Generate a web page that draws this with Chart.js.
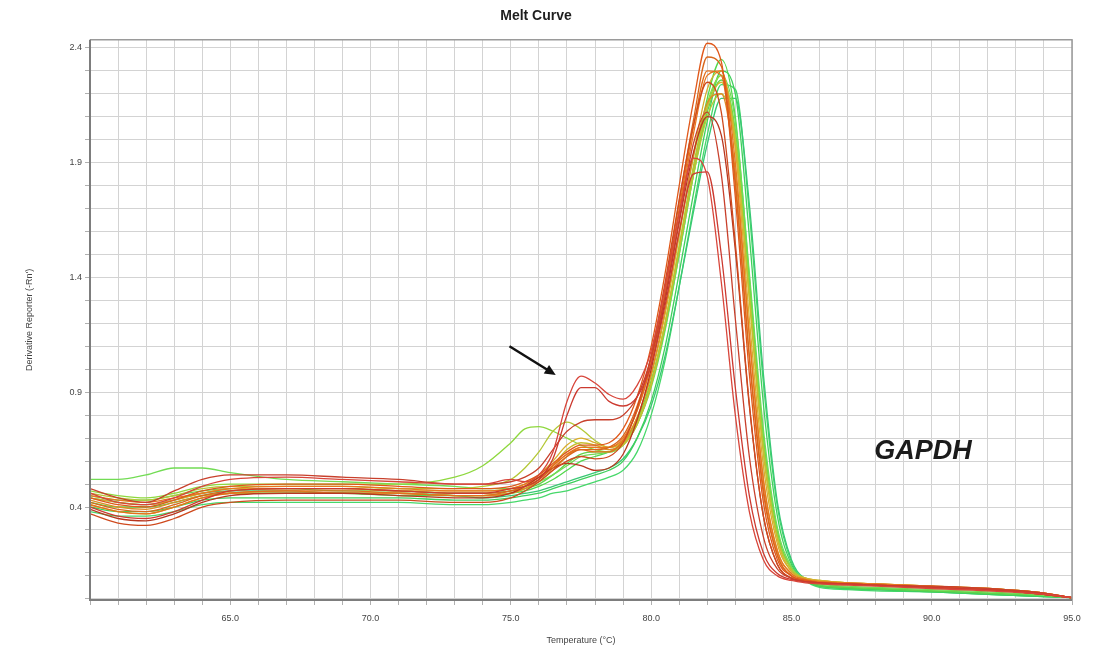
<!DOCTYPE html>
<html>
<head>
<meta charset="utf-8">
<title>Melt Curve</title>
<script src="https://cdn.jsdelivr.net/npm/chart.js@4.4.1/dist/chart.umd.min.js"></script>
<style>
    html, body { margin: 0; padding: 0; background: #ffffff; }
    #wrap { width: 1096px; height: 653px; position: relative; }
</style>
</head>
<body>
<div id="wrap"><canvas id="chart-melt"></canvas></div>
<script>
// 1. temperature points (x) shared by every well
const temps = [60, 61, 62, 63, 64, 65, 67, 69, 71, 73, 74, 75, 75.5, 76, 76.5, 77, 77.5, 78, 78.5, 79,
    79.5, 80, 80.5, 81, 81.5, 82, 82.5, 83, 83.5, 84, 84.5, 85, 85.5, 86, 87, 88, 90, 92, 94, 95];

// 2. derivative reporter per well
// red wells with the primer-dimer shoulder
const wellR1 = [0.46, 0.42, 0.41, 0.44, 0.49, 0.52, 0.53, 0.52, 0.51, 0.50, 0.50, 0.52, 0.51, 0.54, 0.64, 0.86, 0.97, 0.94, 0.89, 0.87,
    0.93, 1.08, 1.36, 1.68, 1.92, 1.84, 1.38, 0.80, 0.38, 0.17, 0.10, 0.08, 0.07, 0.065, 0.06, 0.055, 0.045, 0.035, 0.02, 0.005];
const wellR2 = [0.40, 0.36, 0.35, 0.38, 0.43, 0.47, 0.48, 0.48, 0.47, 0.46, 0.46, 0.48, 0.49, 0.52, 0.61, 0.80, 0.92, 0.92, 0.86, 0.84,
    0.88, 1.02, 1.28, 1.60, 1.85, 1.86, 1.50, 0.92, 0.45, 0.20, 0.11, 0.085, 0.075, 0.07, 0.065, 0.06, 0.05, 0.04, 0.02, 0.005];
const wellR3 = [0.48, 0.44, 0.42, 0.47, 0.52, 0.54, 0.54, 0.53, 0.52, 0.50, 0.50, 0.51, 0.53, 0.57, 0.65, 0.73, 0.77, 0.78, 0.78, 0.80,
    0.88, 1.05, 1.32, 1.65, 1.98, 2.12, 1.85, 1.22, 0.62, 0.27, 0.13, 0.09, 0.075, 0.07, 0.065, 0.06, 0.055, 0.045, 0.025, 0.005];
const wellR4 = [0.39, 0.35, 0.34, 0.37, 0.42, 0.45, 0.46, 0.46, 0.45, 0.44, 0.44, 0.46, 0.49, 0.53, 0.57, 0.59, 0.58, 0.56, 0.57, 0.63,
    0.78, 1.00, 1.30, 1.64, 1.94, 2.10, 2.02, 1.52, 0.84, 0.36, 0.15, 0.09, 0.075, 0.07, 0.065, 0.06, 0.05, 0.04, 0.02, 0.005];
// orange wells
const wellO1 = [0.44, 0.41, 0.40, 0.43, 0.47, 0.49, 0.50, 0.50, 0.49, 0.48, 0.48, 0.49, 0.51, 0.54, 0.59, 0.64, 0.67, 0.67, 0.68, 0.74,
    0.88, 1.10, 1.42, 1.80, 2.16, 2.42, 2.34, 1.75, 0.98, 0.42, 0.17, 0.10, 0.08, 0.07, 0.065, 0.06, 0.05, 0.04, 0.025, 0.005];
const wellO2 = [0.42, 0.39, 0.38, 0.41, 0.45, 0.47, 0.48, 0.48, 0.47, 0.46, 0.46, 0.47, 0.49, 0.52, 0.57, 0.62, 0.65, 0.65, 0.66, 0.71,
    0.84, 1.05, 1.36, 1.73, 2.08, 2.36, 2.32, 1.82, 1.05, 0.46, 0.19, 0.10, 0.08, 0.07, 0.065, 0.06, 0.05, 0.04, 0.02, 0.005];
const wellO3 = [0.45, 0.43, 0.42, 0.44, 0.46, 0.48, 0.49, 0.49, 0.48, 0.47, 0.47, 0.48, 0.50, 0.53, 0.58, 0.63, 0.66, 0.66, 0.66, 0.70,
    0.82, 1.02, 1.32, 1.68, 2.02, 2.28, 2.30, 1.90, 1.15, 0.52, 0.21, 0.11, 0.085, 0.075, 0.07, 0.065, 0.055, 0.045, 0.025, 0.005];
const wellO4 = [0.37, 0.33, 0.32, 0.35, 0.40, 0.42, 0.43, 0.43, 0.43, 0.42, 0.42, 0.44, 0.47, 0.51, 0.56, 0.60, 0.62, 0.61, 0.62, 0.68,
    0.83, 1.06, 1.38, 1.74, 2.06, 2.25, 2.12, 1.55, 0.85, 0.36, 0.15, 0.09, 0.075, 0.07, 0.065, 0.06, 0.05, 0.04, 0.02, 0.005];
const wellO5 = [0.43, 0.40, 0.39, 0.42, 0.45, 0.46, 0.47, 0.46, 0.46, 0.45, 0.45, 0.46, 0.48, 0.51, 0.56, 0.62, 0.66, 0.66, 0.65, 0.68,
    0.79, 0.98, 1.26, 1.60, 1.92, 2.16, 2.20, 1.86, 1.14, 0.52, 0.21, 0.11, 0.085, 0.075, 0.07, 0.065, 0.055, 0.045, 0.025, 0.005];
const wellO6 = [0.41, 0.38, 0.37, 0.40, 0.44, 0.46, 0.47, 0.47, 0.46, 0.45, 0.45, 0.47, 0.49, 0.53, 0.58, 0.63, 0.65, 0.64, 0.64, 0.69,
    0.82, 1.03, 1.34, 1.70, 2.05, 2.30, 2.28, 1.80, 1.06, 0.48, 0.19, 0.10, 0.08, 0.07, 0.065, 0.06, 0.05, 0.04, 0.02, 0.005];
// yellow wells
const wellY1 = [0.44, 0.42, 0.41, 0.43, 0.46, 0.48, 0.48, 0.48, 0.47, 0.47, 0.47, 0.48, 0.50, 0.54, 0.60, 0.67, 0.70, 0.68, 0.66, 0.69,
    0.79, 0.97, 1.24, 1.58, 1.93, 2.22, 2.30, 1.96, 1.22, 0.58, 0.24, 0.12, 0.09, 0.08, 0.07, 0.065, 0.055, 0.045, 0.025, 0.005];
const wellY2 = [0.41, 0.38, 0.37, 0.40, 0.44, 0.46, 0.46, 0.46, 0.46, 0.45, 0.45, 0.46, 0.48, 0.52, 0.58, 0.65, 0.68, 0.67, 0.65, 0.67,
    0.76, 0.93, 1.20, 1.53, 1.87, 2.14, 2.25, 2.00, 1.30, 0.63, 0.26, 0.12, 0.09, 0.08, 0.07, 0.065, 0.055, 0.045, 0.025, 0.005];
const wellY3 = [0.46, 0.44, 0.43, 0.45, 0.48, 0.49, 0.49, 0.49, 0.48, 0.48, 0.49, 0.52, 0.57, 0.64, 0.73, 0.77, 0.74, 0.69, 0.66, 0.68,
    0.77, 0.94, 1.20, 1.52, 1.84, 2.10, 2.20, 1.98, 1.32, 0.66, 0.27, 0.13, 0.09, 0.08, 0.07, 0.065, 0.05, 0.04, 0.02, 0.005];
// green wells
const wellG1 = [0.47, 0.45, 0.44, 0.46, 0.49, 0.50, 0.50, 0.50, 0.50, 0.53, 0.58, 0.68, 0.74, 0.75, 0.73, 0.70, 0.67, 0.65, 0.64, 0.67,
    0.77, 0.94, 1.20, 1.54, 1.88, 2.16, 2.28, 2.02, 1.35, 0.68, 0.28, 0.13, 0.09, 0.075, 0.065, 0.06, 0.05, 0.04, 0.02, 0.005];
const wellG2 = [0.42, 0.40, 0.40, 0.42, 0.45, 0.46, 0.46, 0.46, 0.45, 0.45, 0.45, 0.46, 0.47, 0.49, 0.52, 0.56, 0.60, 0.62, 0.64, 0.68,
    0.78, 0.95, 1.20, 1.52, 1.86, 2.18, 2.35, 2.10, 1.40, 0.70, 0.29, 0.13, 0.08, 0.06, 0.05, 0.045, 0.035, 0.025, 0.015, 0.005];
const wellG3 = [0.40, 0.38, 0.38, 0.40, 0.43, 0.44, 0.44, 0.44, 0.44, 0.43, 0.43, 0.44, 0.45, 0.46, 0.48, 0.50, 0.52, 0.54, 0.56, 0.60,
    0.70, 0.86, 1.10, 1.42, 1.76, 2.08, 2.30, 2.20, 1.58, 0.85, 0.36, 0.15, 0.08, 0.055, 0.045, 0.04, 0.03, 0.02, 0.01, 0.005];
const wellG4 = [0.38, 0.36, 0.36, 0.38, 0.41, 0.42, 0.42, 0.42, 0.42, 0.41, 0.41, 0.42, 0.43, 0.44, 0.46, 0.47, 0.49, 0.51, 0.53, 0.56,
    0.64, 0.80, 1.04, 1.36, 1.70, 2.02, 2.24, 2.22, 1.68, 0.94, 0.40, 0.16, 0.08, 0.05, 0.04, 0.035, 0.03, 0.02, 0.01, 0.005];
const wellG5 = [0.52, 0.52, 0.54, 0.57, 0.57, 0.55, 0.52, 0.51, 0.50, 0.49, 0.48, 0.48, 0.49, 0.51, 0.54, 0.58, 0.62, 0.63, 0.64, 0.67,
    0.76, 0.92, 1.17, 1.50, 1.84, 2.14, 2.28, 2.08, 1.42, 0.74, 0.31, 0.14, 0.085, 0.065, 0.055, 0.05, 0.04, 0.03, 0.015, 0.005];
const wellG6 = [0.44, 0.42, 0.41, 0.43, 0.46, 0.47, 0.47, 0.46, 0.46, 0.45, 0.44, 0.45, 0.46, 0.47, 0.49, 0.51, 0.53, 0.55, 0.57, 0.61,
    0.70, 0.84, 1.06, 1.36, 1.68, 1.98, 2.18, 2.18, 1.72, 0.98, 0.42, 0.17, 0.085, 0.055, 0.045, 0.04, 0.03, 0.02, 0.01, 0.005];
const wellG7 = [0.45, 0.43, 0.43, 0.45, 0.47, 0.48, 0.48, 0.47, 0.47, 0.46, 0.46, 0.47, 0.48, 0.50, 0.54, 0.59, 0.63, 0.64, 0.64, 0.67,
    0.76, 0.93, 1.18, 1.50, 1.84, 2.12, 2.26, 2.04, 1.38, 0.70, 0.29, 0.13, 0.08, 0.06, 0.05, 0.045, 0.035, 0.025, 0.015, 0.005];

// 3. draw order: first entry ends up on top
const wells = [wellR1, wellR2, wellR3, wellO1, wellO4, wellO2, wellR4, wellO6, wellO3, wellO5,
    wellY1, wellY2, wellY3, wellG1, wellG5, wellG7, wellG2, wellG3, wellG6, wellG4];
const wellColors = ['#d8453a', '#cc3a30', '#c8402c', '#e0581a', '#cf4a1e', '#d8661c', '#b8361f', '#e46e1c', '#e8761f', '#de8a26',
    '#d8ae2c', '#c9bc30', '#b4c836', '#8ed83e', '#72dc54', '#62d24a', '#52d84c', '#3fd05c', '#38c874', '#46d86a'];

// 4. axis ticks
const xTickLabels = [65, 70, 75, 80, 85, 90, 95];
const yTickLabels = [0.4, 0.9, 1.4, 1.9, 2.4];

// 5. annotations (data coordinates)
const arrowFrom = { x: 74.95, y: 1.10 };
const arrowTo = { x: 76.6, y: 0.975 };
const geneLabel = { x: 87.95, y: 0.61, text: 'GAPDH' };

const frameAndNotes = {
    id: 'frameAndNotes',
    afterDatasetsDraw(chart) {
        const { ctx, chartArea: a, scales: { x, y } } = chart;
        ctx.save();
        // frame round the plot
        ctx.strokeStyle = '#9a9a9a';
        ctx.lineWidth = 1.5;
        ctx.beginPath();
        ctx.moveTo(a.left, a.top);
        ctx.lineTo(a.right, a.top);
        ctx.lineTo(a.right, a.bottom);
        ctx.stroke();
        ctx.strokeStyle = '#7d7d7d';
        ctx.lineWidth = 2;
        ctx.beginPath();
        ctx.moveTo(a.left, a.top);
        ctx.lineTo(a.left, a.bottom);
        ctx.lineTo(a.right, a.bottom);
        ctx.stroke();

        // arrow pointing at the shoulder
        const x0 = x.getPixelForValue(arrowFrom.x), y0 = y.getPixelForValue(arrowFrom.y);
        const x1 = x.getPixelForValue(arrowTo.x), y1 = y.getPixelForValue(arrowTo.y);
        const ang = Math.atan2(y1 - y0, x1 - x0);
        ctx.strokeStyle = '#111';
        ctx.fillStyle = '#111';
        ctx.lineWidth = 2.5;
        ctx.beginPath();
        ctx.moveTo(x0, y0);
        ctx.lineTo(x1 - 8 * Math.cos(ang), y1 - 8 * Math.sin(ang));
        ctx.stroke();
        ctx.beginPath();
        ctx.moveTo(x1, y1);
        ctx.lineTo(x1 - 11 * Math.cos(ang) + 5 * Math.sin(ang), y1 - 11 * Math.sin(ang) - 5 * Math.cos(ang));
        ctx.lineTo(x1 - 11 * Math.cos(ang) - 5 * Math.sin(ang), y1 - 11 * Math.sin(ang) + 5 * Math.cos(ang));
        ctx.closePath();
        ctx.fill();

        // gene name
        ctx.font = 'italic bold 27px "Liberation Sans", Arial, sans-serif';
        ctx.textAlign = 'left';
        ctx.textBaseline = 'alphabetic';
        ctx.fillStyle = '#1b1b1b';
        ctx.fillText(geneLabel.text, x.getPixelForValue(geneLabel.x), y.getPixelForValue(geneLabel.y));
        ctx.restore();
    }
};

function initMeltChart() {
    const canvas = document.getElementById('chart-melt');

    const datasets = wells.map((vals, i) => ({
        data: temps.map((t, k) => ({ x: t, y: vals[k] })),
        borderColor: wellColors[i],
        backgroundColor: wellColors[i],
        borderWidth: 1.3,
        pointRadius: 0,
        cubicInterpolationMode: 'monotone',
        fill: false
    }));

    const tickFont = { family: '"Liberation Sans", Arial, sans-serif', size: 9 };

    new Chart(canvas, {
        type: 'line',
        data: { datasets: datasets },
        options: {
            responsive: true,
            maintainAspectRatio: false,
            animation: false,
            layout: { padding: { left: 0, right: 24, top: 0, bottom: 0 } },
            plugins: {
                legend: { display: false },
                tooltip: { enabled: false },
                title: {
                    display: true,
                    text: 'Melt Curve',
                    color: '#1e1e1e',
                    font: { family: '"Liberation Sans", Arial, sans-serif', size: 14, weight: 'bold' },
                    padding: { top: 8, bottom: 15 }
                }
            },
            scales: {
                x: {
                    type: 'linear',
                    min: 60,
                    max: 95,
                    afterBuildTicks: (scale) => {
                        const ticks = [];
                        for (let t = 60; t <= 95; t++) ticks.push({ value: t });
                        scale.ticks = ticks;
                    },
                    afterFit: (scale) => { scale.height = 53; },
                    grid: { color: '#d3d3d3', lineWidth: 1, tickLength: 5, tickColor: '#b0b0b0' },
                    border: { display: false },
                    ticks: {
                        autoSkip: false,
                        maxRotation: 0,
                        padding: 8,
                        color: '#444',
                        font: tickFont,
                        callback: (v) => xTickLabels.includes(v) ? v.toFixed(1) : ''
                    },
                    title: {
                        display: true,
                        text: 'Temperature (°C)',
                        color: '#444',
                        font: { family: '"Liberation Sans", Arial, sans-serif', size: 9 },
                        padding: { top: 0, bottom: 7 }
                    }
                },
                y: {
                    type: 'linear',
                    min: -0.005,
                    max: 2.435,
                    afterBuildTicks: (scale) => {
                        const ticks = [];
                        for (let k = 0; k <= 24; k++) ticks.push({ value: k / 10 });
                        scale.ticks = ticks;
                    },
                    afterFit: (scale) => { scale.width = 90; },
                    grid: { color: '#d3d3d3', lineWidth: 1, tickLength: 5, tickColor: '#b0b0b0' },
                    border: { display: false },
                    ticks: {
                        autoSkip: false,
                        padding: 3,
                        color: '#444',
                        font: tickFont,
                        callback: (v) => yTickLabels.some(l => Math.abs(l - v) < 1e-6) ? v.toFixed(1) : ''
                    },
                    title: {
                        display: true,
                        text: "Derivative Reporter (-Rn')",
                        color: '#444',
                        font: { family: '"Liberation Sans", Arial, sans-serif', size: 9 },
                        padding: { top: 24, bottom: 0 }
                    }
                }
            }
        },
        plugins: [frameAndNotes]
    });
}

initMeltChart();
</script>
</body>
</html>
